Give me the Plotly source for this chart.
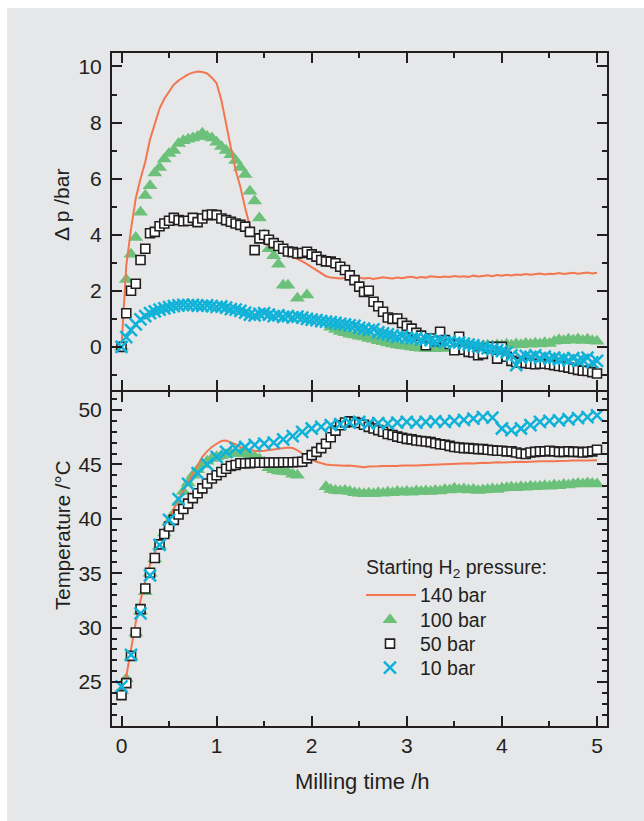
import numpy as np
import plotly.graph_objects as go
from plotly.subplots import make_subplots

# ---------------- data ----------------
t = [round(0.05 * i, 2) for i in range(101)]          # milling time grid (h)
t_x = [round(0.1 * i, 1) for i in range(51)]           # 10 bar temperature sampling (h)

# pressure change (bar)
dp_140 = [0, 2.9, 4.2, 5.3, 6.0, 6.6, 7.4, 7.95, 8.5, 8.85,
          9.1, 9.35, 9.5, 9.62, 9.72, 9.78, 9.82, 9.8, 9.75, 9.6,
          9.4, 8.8, 7.9, 7.1, 6.3, 5.7, 4.95, 4.3, 4.0, 3.82,
          3.68, 3.6, 3.52, 3.47, 3.4, 3.3, 3.22, 3.13, 3.05, 2.95,
          2.85, 2.75, 2.62, 2.52, 2.47, 2.46, 2.44, 2.46, 2.43, 2.45,
          2.47, 2.44, 2.46, 2.42, 2.45, 2.48, 2.46, 2.44, 2.47, 2.45,
          2.48, 2.5, 2.46, 2.49, 2.47, 2.52, 2.5, 2.48, 2.51, 2.49,
          2.53, 2.5, 2.52, 2.49, 2.54, 2.51, 2.53, 2.55, 2.52, 2.56,
          2.54, 2.57, 2.55, 2.58, 2.56, 2.6, 2.57, 2.59, 2.62, 2.58,
          2.61, 2.6, 2.63, 2.6, 2.62, 2.64, 2.61, 2.63, 2.65, 2.62, 2.64]
dp_100 = [0, 2.4, 3.3, 3.9, 4.8, 5.4, 5.75, 6.2, 6.4, 6.7,
          6.9, 7.0, 7.25, 7.35, 7.4, 7.45, 7.5, 7.62, 7.5, 7.45,
          7.3, 7.15, 7.0, 6.85, 6.65, 6.4, 6.15, 5.55, 5.2, 4.6,
          4.0, 3.5, 3.25, 2.95, 2.2, 2.2, None, 1.73, None, 1.85,
          None, None, None, None, 0.7, 0.62, 0.55, 0.5, 0.45, 0.42,
          0.38, 0.35, 0.3, 0.27, 0.22, 0.18, 0.14, 0.1, 0.07, 0.04,
          0.02, 0.0, -0.03, -0.05, -0.06, -0.05, -0.07, -0.04, -0.06, -0.02,
          -0.04, 0.0, -0.02, 0.03, 0.0, 0.04, 0.02, 0.06, 0.03, 0.07,
          0.05, 0.09, 0.06, 0.1, 0.08, 0.12, 0.09, 0.13, 0.1, 0.15,
          0.12, 0.2, 0.25, 0.22, 0.27, 0.24, 0.28, 0.23, 0.27, 0.22, 0.2]
dp_50 = [0, 1.2, 2.0, 2.25, 3.1, 3.5, 4.05, 4.1, 4.3, 4.4,
         4.5, 4.6, 4.52, 4.48, 4.5, 4.6, 4.45, 4.58, 4.7, 4.72,
         4.7, 4.58, 4.52, 4.46, 4.4, 4.35, 4.29, 4.1, 3.45, 3.87,
         3.99, 3.82, 3.7, 3.6, 3.5, 3.4, 3.38, 3.33, 3.35, 3.39,
         3.3, 3.22, 3.1, 3.05, 3.04, 2.98, 2.86, 2.74, 2.55, 2.38,
         2.15, 1.96, 2.0, 1.61, 1.45, 1.25, 1.05, 1.0, 1.01, 0.85,
         0.75, 0.65, 0.5, 0.4, 0.06, 0.3, 0.2, 0.54, 0.24, 0.1,
         -0.12, 0.36, -0.1, -0.18, -0.2, -0.3, -0.25, -0.05, 0.0, -0.42,
         0.0, -0.35, -0.5, -0.54, -0.56, -0.58, -0.6, -0.62, -0.6, -0.6,
         -0.62, -0.65, -0.68, -0.71, -0.74, -0.78, -0.82, -0.85, -0.86, -0.9, -0.95]
dp_10 = [0, 0.35, 0.6, 0.8, 0.98, 1.1, 1.2, 1.27, 1.33, 1.37,
         1.42, 1.45, 1.48, 1.5, 1.49, 1.5, 1.47, 1.46, 1.48, 1.45,
         1.43, 1.44, 1.4, 1.35, 1.33, 1.28, 1.22, 1.15, 1.12, 1.18,
         1.2, 1.15, 1.1, 1.12, 1.07, 1.1, 1.05, 1.08, 1.04, 1.0,
         0.97, 0.95, 0.92, 0.9, 0.88, 0.86, 0.82, 0.8, 0.77, 0.75,
         0.68, 0.65, 0.6, 0.62, 0.52, 0.48, 0.45, 0.4, 0.36, 0.38,
         0.33, 0.3, 0.32, 0.26, 0.28, 0.24, 0.2, 0.22, 0.17, 0.19,
         0.14, 0.16, 0.12, 0.08, 0.05, 0.02, -0.02, -0.05, -0.08, -0.12,
         -0.15, -0.2, -0.3, -0.65, -0.38, -0.32, -0.36, -0.3, -0.4, -0.35,
         -0.42, -0.38, -0.45, -0.42, -0.48, -0.4, -0.5, -0.46, -0.38, -0.55, -0.5]

# temperature (°C)
T_140 = [24.3, 25.5, 28.0, 30.5, 32.5, 34.3, 35.8, 37.0, 38.0, 39.0,
         40.0, 40.9, 41.8, 42.6, 43.4, 44.2, 45.0, 45.7, 46.2, 46.6,
         46.9, 47.15, 47.2, 47.05, 46.85, 46.6, 46.4, 46.3, 46.25, 46.22,
         46.25, 46.3, 46.35, 46.45, 46.5, 46.55, 46.5, 46.3, 46.0, 45.7,
         45.45, 45.25, 45.1, 45.0, 44.95, 44.92, 44.9, 44.88, 44.9, 44.85,
         44.8, 44.75, 44.8, 44.78, 44.82, 44.85, 44.83, 44.87, 44.85, 44.9,
         44.88, 44.92, 44.9, 44.93, 44.95, 44.92, 44.97, 45.0, 44.98, 45.02,
         45.05, 45.03, 45.07, 45.1, 45.08, 45.12, 45.15, 45.13, 45.17, 45.2,
         45.17, 45.2, 45.22, 45.2, 45.25, 45.23, 45.27, 45.25, 45.28, 45.3,
         45.27, 45.3, 45.32, 45.3, 45.33, 45.35, 45.32, 45.35, 45.37, 45.35, 45.38]
T_100 = [24.2, 25.3, 27.3, 29.5, 31.5, 33.3, 35.0, 36.3, 37.5, 38.7,
         39.7, 40.5, 41.5, 42.5, 43.3, 44.0, 44.5, 45.0, 45.3, 45.55,
         45.7, 45.8, 45.9, 46.0, 46.05, 46.0, 45.95, 45.85, 45.7, 45.5,
         45.2, 44.7, 44.5, 44.4, 44.35, 44.3, 44.1, 44.0, None, None,
         None, None, None, 42.95, 42.7, 42.6, 42.55, 42.6, 42.5, 42.4,
         42.35, 42.3, 42.35, 42.3, 42.4, 42.35, 42.45, 42.4, 42.5, 42.45,
         42.5, 42.45, 42.55, 42.5, 42.55, 42.5, 42.6, 42.55, 42.7, 42.65,
         42.8, 42.7, 42.75, 42.65, 42.7, 42.6, 42.65, 42.7, 42.75, 42.7,
         42.8, 42.85, 42.9, 42.85, 42.95, 42.9, 43.0, 42.95, 43.0, 43.05,
         43.0, 43.1, 43.05, 43.15, 43.1, 43.2, 43.25, 43.2, 43.3, 43.25, 43.2]
T_50 = [23.8, 24.9, 27.4, 29.55, 31.7, 33.6, 35.05, 36.4, 37.65, 38.6,
        39.3, 39.9, 40.4, 40.9, 41.4, 41.9, 42.35, 42.8, 43.25, 43.7,
        44.0, 44.3, 44.6, 44.85, 44.95, 45.1, 45.1, 45.12, 45.15, 45.15,
        45.15, 45.17, 45.17, 45.17, 45.2, 45.2, 45.2, 45.22, 45.25, 45.55,
        45.85, 46.15, 46.5, 46.9, 47.5, 48.1, 48.6, 48.85, 48.95, 48.9,
        48.8, 48.65, 48.45, 48.3, 48.15, 48.0, 47.8, 47.7, 47.55, 47.45,
        47.35, 47.3, 47.2, 47.15, 47.1, 47.05, 46.95, 46.85, 46.8, 46.7,
        46.6, 46.55, 46.5, 46.5, 46.45, 46.4, 46.4, 46.35, 46.3, 46.25,
        46.25, 46.2, 46.2, 46.1, 46.0, 45.95, 46.1, 46.15, 46.2, 46.2,
        46.25, 46.2, 46.15, 46.15, 46.2, 46.15, 46.15, 46.1, 46.15, 46.2, 46.35]
T_10 = [24.6, 27.5, 31.3, 34.8, 37.6, 39.9, 41.8, 43.2, 44.2, 45.0,
        45.7, 46.15, 46.5, 46.6, 46.8, 46.9, 47.0, 47.3, 47.6, 48.0,
        48.3, 48.45, 48.6, 48.7, 48.85, 48.9, 48.75, 48.8, 48.75, 48.85,
        48.9, 48.85, 48.9, 48.95, 48.9, 49.0, 49.1, 49.2, 49.35, 49.3,
        48.3, 48.15, 48.3, 48.6, 48.9, 49.0, 49.05, 49.15, 49.25, 49.35, 49.5]

series_names = ["140 bar", "100 bar", "50 bar", "10 bar"]
x_ticks = [0, 1, 2, 3, 4, 5]
dp_ticks = [0, 2, 4, 6, 8, 10]
T_ticks = [25, 30, 35, 40, 45, 50]

# ---------------- style ----------------
ORANGE = "#f2764f"
GREEN = "#6cc17a"
BLUE = "#10b2d8"
INK = "#231f20"
BG = "#e6e7e8"
FONT = "Liberation Sans, Arial, sans-serif"

W, H = 644, 821
ML, MR, MT, MB = 112, 37, 53, 95
PW, PH = W - ML - MR, H - MT - MB

def px_x(px):
    return (px - ML) / PW

def px_y(py):
    return 1 - (py - MT) / PH

fig = make_subplots(rows=2, cols=1, shared_xaxes=True, vertical_spacing=0)

tri = dict(mode="markers", marker=dict(symbol="triangle-up", size=13, color=GREEN, line=dict(width=0)))
sq = dict(mode="markers", marker=dict(symbol="square", size=9, color="white", line=dict(color=INK, width=1.6)))
xx = dict(mode="markers", marker=dict(symbol="x-thin", size=12, color=BLUE, line=dict(color=BLUE, width=2.5)))
ln = dict(mode="lines", line=dict(color=ORANGE, width=2))

# top panel (one legend box per entry so rows can be spaced like the reference)
fig.add_trace(go.Scatter(x=t, y=dp_100, name=series_names[1], legend="legend2", **tri), row=1, col=1)
fig.add_trace(go.Scatter(x=t, y=dp_140, name=series_names[0], showlegend=False, **ln), row=1, col=1)
fig.add_trace(go.Scatter(x=t, y=dp_50, name=series_names[2], legend="legend3", **sq), row=1, col=1)
fig.add_trace(go.Scatter(x=t, y=dp_10, name=series_names[3], legend="legend4", **xx), row=1, col=1)
# legend entry for the 140 bar line (its longer sample stroke is drawn as a shape)
fig.add_trace(go.Scatter(x=[None], y=[None], mode="lines", name=series_names[0], legend="legend",
                         line=dict(color="rgba(0,0,0,0)", width=2)), row=1, col=1)
# bottom panel
fig.add_trace(go.Scatter(x=t, y=T_100, showlegend=False, **tri), row=2, col=1)
fig.add_trace(go.Scatter(x=t, y=T_140, showlegend=False, **ln), row=2, col=1)
fig.add_trace(go.Scatter(x=t, y=T_50, showlegend=False, **sq), row=2, col=1)
fig.add_trace(go.Scatter(x=t_x, y=T_10, showlegend=False, **xx), row=2, col=1)

axis_common = dict(showline=True, linecolor=INK, linewidth=2, mirror="ticks",
                   ticks="inside", ticklen=10, tickwidth=2, tickcolor=INK,
                   showgrid=False, zeroline=False,
                   tickfont=dict(family=FONT, size=21, color=INK))
minor_common = dict(ticks="inside", ticklen=5, tickwidth=2, tickcolor=INK, showgrid=False)

fig.update_xaxes(range=[-0.1, 5.105], tickvals=x_ticks,
                 minor=dict(dtick=0.5, tick0=0, **minor_common), **axis_common)
fig.update_xaxes(showticklabels=False, row=1, col=1)
fig.update_xaxes(showticklabels=True, row=2, col=1)
fig.update_yaxes(range=[-1.52, 10.48], tickvals=dp_ticks, domain=[0.5, 1.0],
                 minor=dict(dtick=1, tick0=0, **minor_common),
                 ticklabelstandoff=4, row=1, col=1, **axis_common)
fig.update_yaxes(range=[20.96, 51.7], tickvals=T_ticks, domain=[0.0, 0.5 - 2.0 / PH],
                 minor=dict(dtick=1, tick0=0, **minor_common),
                 ticklabelstandoff=4, row=2, col=1, **axis_common)

LEG_FONT = dict(family=FONT, size=19.5, color=INK)
leg_rows = [595, 620, 644, 668]

def leg(ypx):
    return dict(x=px_x(360), y=px_y(ypx), xanchor="left", yanchor="middle",
                bgcolor="rgba(0,0,0,0)", font=LEG_FONT, itemwidth=50,
                borderwidth=0)

fig.update_layout(
    width=W, height=H,
    margin=dict(l=ML, r=MR, t=MT, b=MB, pad=0),
    paper_bgcolor=BG, plot_bgcolor=BG,
    font=dict(family=FONT, size=20, color=INK),
    showlegend=True,
    legend=leg(leg_rows[0]),
    legend2=leg(leg_rows[1]),
    legend3=leg(leg_rows[2]),
    legend4=leg(leg_rows[3]),
    shapes=[
        dict(type="rect", xref="paper", yref="paper", x0=px_x(-5), x1=px_x(7), y0=px_y(-5), y1=px_y(830),
             fillcolor="white", line=dict(width=0), layer="below"),
        dict(type="rect", xref="paper", yref="paper", x0=px_x(-5), x1=px_x(650), y0=px_y(-5), y1=px_y(8),
             fillcolor="white", line=dict(width=0), layer="below"),
        dict(type="line", xref="paper", yref="paper", x0=px_x(366), x1=px_x(416), y0=px_y(595), y1=px_y(595),
             line=dict(color=ORANGE, width=2), layer="above"),
    ],
    annotations=[
        dict(text="\u0394 p /bar", xref="paper", yref="paper", x=px_x(62), y=px_y(205),
             textangle=-90, showarrow=False, xanchor="center", yanchor="middle",
             font=dict(family=FONT, size=21, color=INK)),
        dict(text="Temperature /\u00b0C", xref="paper", yref="paper", x=px_x(62), y=px_y(535),
             textangle=-90, showarrow=False, xanchor="center", yanchor="middle",
             font=dict(family=FONT, size=20.5, color=INK)),
        dict(text="Milling time /h", xref="paper", yref="paper", x=px_x(362), y=px_y(781),
             showarrow=False, xanchor="center", yanchor="middle",
             font=dict(family=FONT, size=22, color=INK)),
        dict(text="Starting H<sub>2</sub> pressure:", xref="paper", yref="paper", x=px_x(364), y=px_y(568),
             showarrow=False, xanchor="left", yanchor="middle",
             font=LEG_FONT),
    ],
)

fig.write_html("out.html")
